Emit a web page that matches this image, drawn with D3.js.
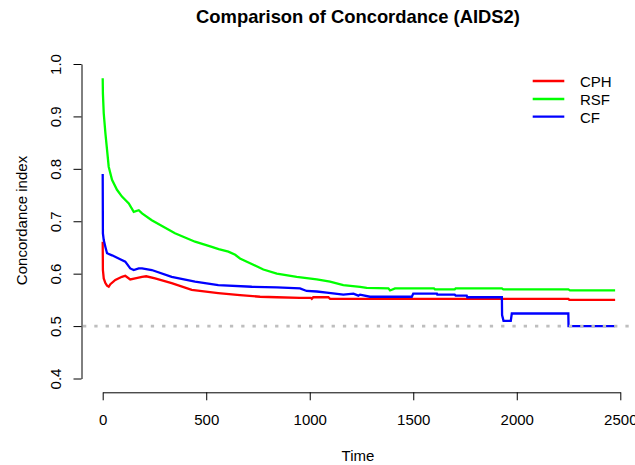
<!DOCTYPE html>
<html>
<head>
<meta charset="utf-8">
<script src="https://cdn.jsdelivr.net/npm/d3@7/dist/d3.min.js"></script>
<style>
  html, body { margin: 0; padding: 0; background: #fff; }
  svg { display: block; }
  text { font-family: "Liberation Sans", Arial, Helvetica, sans-serif; fill: #000; }
</style>
</head>
<body>
<svg id="chart" width="635" height="465"></svg>
<script>
// Concordance index over time for three survival models
const cphTime = [0, 1, 5, 13, 21, 29, 37, 61, 93, 109, 133, 157, 190, 210, 253, 333, 430, 558, 663, 760, 841, 953, 1005, 1010, 1017, 1090, 1098, 2249, 2254, 2475];
const cphCindex = [0.661, 0.607, 0.591, 0.582, 0.577, 0.575, 0.580, 0.588, 0.594, 0.596, 0.589, 0.591, 0.594, 0.595, 0.591, 0.582, 0.569, 0.563, 0.559, 0.556, 0.555, 0.554, 0.554, 0.552, 0.555, 0.555, 0.552, 0.552, 0.550, 0.550];

const rsfTime = [0, 1, 5, 13, 21, 29, 45, 69, 93, 126, 150, 174, 190, 237, 349, 446, 527, 560, 607, 640, 663, 712, 776, 841, 937, 1034, 1098, 1162, 1243, 1275, 1380, 1388, 1412, 1600, 1605, 1700, 1705, 1928, 1935, 2249, 2257, 2475];
const rsfCindex = [0.973, 0.944, 0.906, 0.868, 0.836, 0.804, 0.779, 0.760, 0.747, 0.734, 0.718, 0.721, 0.715, 0.702, 0.677, 0.661, 0.651, 0.647, 0.642, 0.636, 0.629, 0.620, 0.608, 0.600, 0.594, 0.589, 0.585, 0.578, 0.575, 0.573, 0.572, 0.568, 0.572, 0.572, 0.570, 0.570, 0.572, 0.572, 0.570, 0.570, 0.568, 0.568];

const cfTime = [0, 1, 5, 13, 21, 45, 77, 109, 133, 150, 174, 190, 237, 333, 446, 558, 720, 841, 953, 985, 1034, 1082, 1162, 1211, 1235, 1243, 1291, 1493, 1500, 1614, 1616, 1700, 1705, 1758, 1761, 1928, 1929, 1936, 1971, 1976, 2249, 2250, 2475];
const cfCindex = [0.790, 0.677, 0.664, 0.651, 0.639, 0.635, 0.629, 0.623, 0.610, 0.607, 0.610, 0.610, 0.607, 0.594, 0.585, 0.578, 0.575, 0.574, 0.572, 0.567, 0.566, 0.564, 0.560, 0.562, 0.558, 0.560, 0.556, 0.556, 0.562, 0.562, 0.560, 0.560, 0.558, 0.558, 0.555, 0.555, 0.521, 0.510, 0.510, 0.524, 0.524, 0.500, 0.500];

const modelNames = ["CPH", "RSF", "CF"];
const modelColors = ["#ff0000", "#00ff00", "#0000ff"];
const xTicks = [0, 500, 1000, 1500, 2000, 2500];
const yTicks = [0.4, 0.5, 0.6, 0.7, 0.8, 0.9, 1.0];
const referenceLevel = 0.5;

const series = [
  { name: modelNames[0], color: modelColors[0], t: cphTime, c: cphCindex },
  { name: modelNames[1], color: modelColors[1], t: rsfTime, c: rsfCindex },
  { name: modelNames[2], color: modelColors[2], t: cfTime, c: cfCindex }
];

const svg = d3.select("#chart");
const plot = { left: 81.5, right: 635.5, top: 51, bottom: 391 };

const x = d3.scaleLinear().domain([0, 2500]).range([102.7, 620.3]);
const y = d3.scaleLinear().domain([0.4, 1.0]).range([378.5, 64]);

svg.append("defs").append("clipPath").attr("id", "plotClip")
  .append("rect")
  .attr("x", plot.left).attr("y", plot.top)
  .attr("width", plot.right - plot.left).attr("height", plot.bottom - plot.top);

// Title
svg.append("text")
  .attr("x", 358).attr("y", 23)
  .attr("text-anchor", "middle")
  .style("font-size", "18.4px").style("font-weight", "bold")
  .text("Comparison of Concordance (AIDS2)");

// X axis
const xAxis = svg.append("g")
  .attr("transform", `translate(0,392.3)`)
  .call(d3.axisBottom(x).tickValues(xTicks).tickFormat(d3.format("d")).tickSize(8).tickSizeOuter(0));
xAxis.select(".domain").attr("stroke", "#000").attr("stroke-width", 1);
xAxis.selectAll(".tick line").attr("stroke", "#000").attr("stroke-width", 1);
xAxis.selectAll(".tick text")
  .attr("y", 33.2).attr("dy", 0)
  .style("font-size", "15px").style("font-family", "'Liberation Sans', Arial, sans-serif").attr("fill", "#000");

// Y axis
const yAxis = svg.append("g")
  .attr("transform", `translate(${plot.left},0)`)
  .call(d3.axisLeft(y).tickValues(yTicks).tickFormat(d3.format(".1f")).tickSize(8).tickSizeOuter(0));
yAxis.select(".domain").attr("stroke", "#000").attr("stroke-width", 1);
yAxis.selectAll(".tick line").attr("stroke", "#000").attr("stroke-width", 1);
yAxis.selectAll(".tick text")
  .attr("x", 0).attr("dy", 0)
  .attr("transform", "translate(-20.5,0) rotate(-90)")
  .attr("text-anchor", "middle")
  .style("font-size", "15px").style("font-family", "'Liberation Sans', Arial, sans-serif").attr("fill", "#000");

// Axis titles
svg.append("text")
  .attr("x", 358).attr("y", 461)
  .attr("text-anchor", "middle")
  .style("font-size", "15px")
  .text("Time");

svg.append("text")
  .attr("transform", "translate(27,220.5) rotate(-90)")
  .attr("text-anchor", "middle")
  .style("font-size", "15px")
  .text("Concordance index");

// Curves
const line = d3.line()
  .x(d => x(d[0]))
  .y(d => y(d[1]))
  .curve(d3.curveLinear);

const curves = svg.append("g").attr("clip-path", "url(#plotClip)");
series.forEach(s => {
  const pts = s.t.map((t, i) => [t, s.c[i]]);
  curves.append("path")
    .datum(pts)
    .attr("d", line)
    .attr("fill", "none")
    .attr("stroke", s.color)
    .attr("stroke-width", 2.3)
    .attr("stroke-linejoin", "miter")
    .attr("stroke-linecap", "butt");
});

// Reference line at C = 0.5
curves.append("line")
  .attr("x1", plot.left + 1.5).attr("x2", plot.right)
  .attr("y1", y(referenceLevel)).attr("y2", y(referenceLevel))
  .attr("stroke", "#bebebe")
  .attr("stroke-width", 2.7)
  .attr("stroke-dasharray", "3.3,8");

// Legend
const legend = svg.append("g");
const legendY = [81, 99, 116.7];
series.forEach((s, i) => {
  legend.append("line")
    .attr("x1", 532.7).attr("x2", 564.3)
    .attr("y1", legendY[i]).attr("y2", legendY[i])
    .attr("stroke", s.color).attr("stroke-width", 2.3);
  legend.append("text")
    .attr("x", 580).attr("y", legendY[i] + 5.8)
    .style("font-size", "15px")
    .text(s.name);
});
</script>
</body>
</html>
